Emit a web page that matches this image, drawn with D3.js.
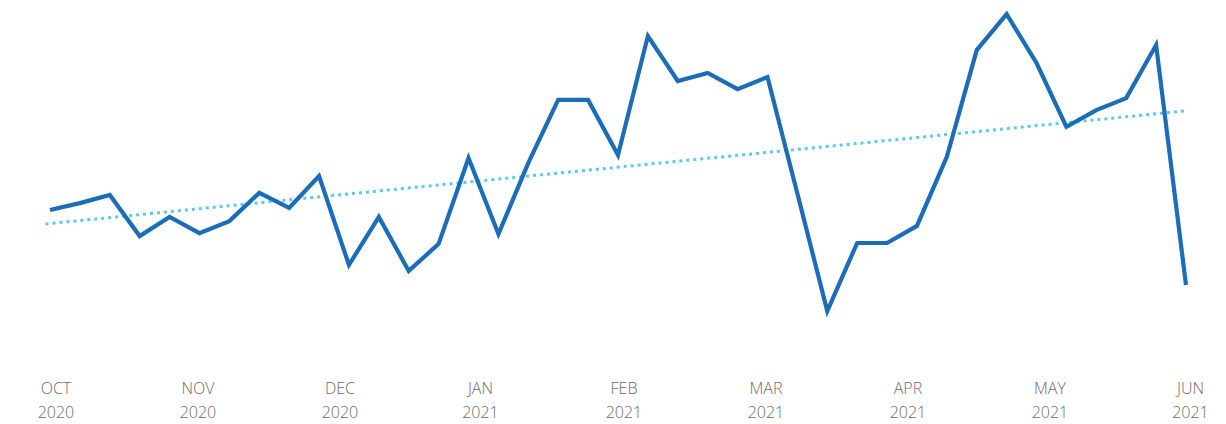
<!DOCTYPE html>
<html>
<head>
<meta charset="utf-8">
<script src="https://cdn.jsdelivr.net/npm/d3@7"></script>
<style>
  html, body { margin: 0; padding: 0; background: #fff; }
  svg { display: block; }
  .month-label { font-family: "Open Sans", "Segoe UI", sans-serif; font-weight: 300; font-size: 16px; fill: #6b6b6b; }
</style>
</head>
<body>
<div id="chart"></div>
<script>
// Weekly values, Oct 2020 -> Jun 2021
const values = [
    50, 52.3, 55, 41.3, 47.7, 42.3, 46.3, 55.7, 50.7, 61.3,
    31.7, 47.7, 29.7, 38.7, 67.3, 42, 65.7, 86.7, 86.7, 68.3,
    108, 93, 95.7, 90.3, 94.3, 55.5, 16.3, 39, 39, 44.7,
    67.7, 103.3, 115.3, 99, 77.7, 83.3, 87.3, 105, 25
];

// Month tick labels and where they sit along the week index
const monthNames = ["OCT", "NOV", "DEC", "JAN", "FEB", "MAR", "APR", "MAY", "JUN"];
const monthYears = ["2020", "2020", "2020", "2021", "2021", "2021", "2021", "2021", "2021"];
const monthIndex = [0.2, 4.95, 9.7, 14.4, 19.2, 23.95, 28.7, 33.45, 38.15];

const width = 1226;
const height = 424;

const svg = d3.select("#chart")
    .append("svg")
    .attr("width", width)
    .attr("height", height);

const x = d3.scaleLinear()
    .domain([0, values.length - 1])
    .range([50, 1186]);

const y = d3.scaleLinear()
    .domain([10, 120])
    .range([330, 0]);

// least squares trend line
const n = values.length;
const xs = d3.range(n);
const mx = d3.mean(xs);
const my = d3.mean(values);
const slope = d3.sum(xs, i => (i - mx) * (values[i] - my)) / d3.sum(xs, i => (i - mx) * (i - mx));
const intercept = my - slope * mx;

svg.append("line")
    .attr("x1", x(-0.15))
    .attr("y1", y(intercept + slope * -0.15))
    .attr("x2", x(n - 1))
    .attr("y2", y(intercept + slope * (n - 1)))
    .attr("stroke", "#5cc8ee")
    .attr("stroke-width", 3)
    .attr("stroke-dasharray", "3 4");

const line = d3.line()
    .x((d, i) => x(i))
    .y(d => y(d));

svg.append("path")
    .datum(values)
    .attr("d", line)
    .attr("fill", "none")
    .attr("stroke", "#1c6db8")
    .attr("stroke-width", 4.2)
    .attr("stroke-linejoin", "miter")
    .attr("stroke-linecap", "butt");

// month labels (two lines each)
const labels = svg.append("g")
    .selectAll("text")
    .data(monthNames)
    .enter()
    .append("text")
    .attr("class", "month-label")
    .attr("text-anchor", "middle")
    .attr("x", (d, i) => x(monthIndex[i]));

labels.append("tspan")
    .attr("y", 394)
    .text(d => d);

labels.append("tspan")
    .attr("x", (d, i) => x(monthIndex[i]))
    .attr("y", 418)
    .text((d, i) => monthYears[i]);
</script>
</body>
</html>
